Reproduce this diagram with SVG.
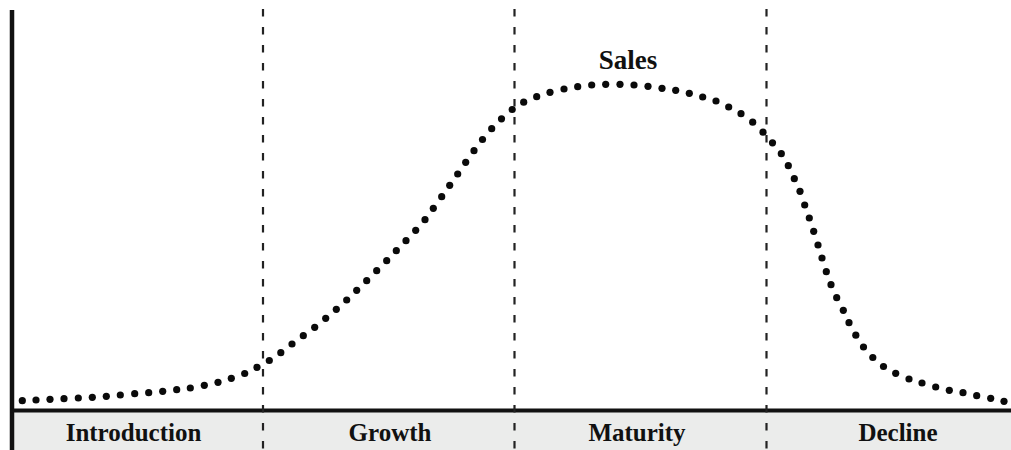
<svg xmlns="http://www.w3.org/2000/svg" width="1011" height="450" viewBox="0 0 1011 450">
<style>
.lbl{font-family:"Liberation Serif","Times New Roman",serif;font-weight:bold;font-size:25px;fill:#111;text-anchor:middle}
.sales{font-size:27px}
.div{stroke:#222;stroke-width:2.2;stroke-dasharray:7.5 10.5;fill:none}
.axis{stroke:#111;fill:none}
.curve{fill:none;stroke:none;marker-start:url(#dot);marker-mid:url(#dot);marker-end:url(#dot)}
</style>
<defs>
<marker id="dot" markerUnits="userSpaceOnUse" markerWidth="10" markerHeight="10" refX="5" refY="5" overflow="visible">
<circle cx="5" cy="5" r="3.6" fill="#0a0a0a"/>
</marker>
</defs>
<rect width="1011" height="450" fill="#ffffff"/>
<g id="band">
<rect x="12" y="412" width="999" height="38" fill="#ebeceb"/>
</g>
<g id="axes">
<line class="axis" x1="12" y1="10" x2="12" y2="450" stroke-width="4.5"/>
<line class="axis" x1="10" y1="410.5" x2="1011" y2="410.5" stroke-width="4"/>
</g>
<g id="connectors">
<line class="div" x1="263" y1="9" x2="263" y2="450"/>
<line class="div" x1="514.5" y1="9" x2="514.5" y2="450"/>
<line class="div" x1="766.5" y1="9" x2="766.5" y2="450"/>
</g>
<g id="sales-curve">
<path class="curve" d="M22.3,400.7 L36,400 L50,399.3 L64,398.7 L78.3,398 L92.3,397.3 L106.3,396.3 L120.3,395 L134.7,393.7 L148.7,392.7 L162.7,391.3 L176.7,389.7 L190.3,388 L204.3,385.3 L218,382.3 L231.3,378.3 L244.7,373.5 L257,367.3 L269.3,360.5 L280.8,352.7 L292,344 L303.3,335.7 L314.7,327.3 L325.7,318.3 L336.3,309.3 L346.7,300 L356.7,290.3 L366.7,280.7 L376.7,270.7 L386.7,260.7 L396.3,250.7 L406,240.7 L415.7,230.3 L425,219.7 L433.3,208.3 L441.7,196.7 L449.7,185.3 L457.7,174 L465.7,162.3 L474,150.7 L482.5,139.5 L491.7,128.7 L501.5,118.8 L512.2,109.5 L523.7,102.2 L536.7,96.7 L550,92.3 L564,89 L577.7,86.7 L591.7,85 L605.7,84.3 L620,84.3 L634,85 L648,86.3 L662,88.3 L675.7,90.3 L689.3,93.3 L702.7,97 L716,101 L728.7,107 L741,113.7 L752.7,122.2 L763,132.2 L772.5,142.8 L781.3,153.7 L788.3,165.7 L794.3,178.7 L800,191.3 L804.7,205 L809.3,218 L813.7,231.3 L818,245 L822,258 L826.3,271.7 L831,284.7 L836.7,297.7 L843.3,310.3 L849,322.7 L855.8,335.2 L863.5,347 L872.8,357.5 L883.5,366.5 L895.7,373.3 L909,379 L922,383 L935.7,387 L949.3,390.3 L963,392.7 L976.7,395.7 L990.7,398.3 L1004,401.3"/>
<text class="lbl sales" x="628" y="69">Sales</text>
</g>
<g id="intro"><text class="lbl" x="133.5" y="441">Introduction</text></g>
<g id="growth"><text class="lbl" x="390" y="441">Growth</text></g>
<g id="maturity"><text class="lbl" x="637" y="441">Maturity</text></g>
<g id="decline"><text class="lbl" x="898" y="441">Decline</text></g>
</svg>
